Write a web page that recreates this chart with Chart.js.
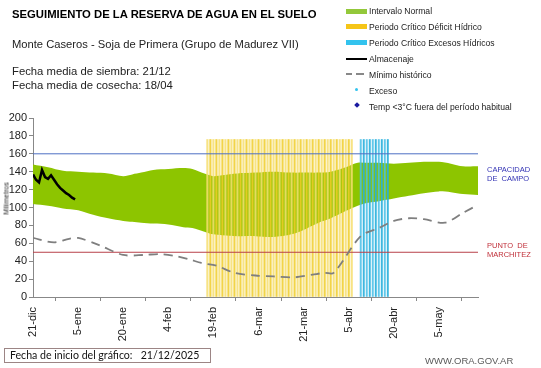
<!DOCTYPE html>
<html>
<head>
<meta charset="utf-8">
<script src="https://cdn.jsdelivr.net/npm/chart.js@4.4.1/dist/chart.umd.min.js"></script>
<style>
  html,body{margin:0;padding:0;background:#fff;}
  #wrap{position:relative;width:541px;height:368px;overflow:hidden;font-family:"Liberation Sans",Arial,sans-serif;}
  #c{position:absolute;left:0;top:0;}
  .t{position:absolute;white-space:nowrap;color:#222;}
  .lg{position:absolute;left:369px;font-size:8.6px;color:#222;white-space:nowrap;}
  .sw{position:absolute;left:346px;width:21px;}
</style>
</head>
<body>
<div id="wrap">
  <canvas id="c" width="541" height="368"></canvas>
  <div class="t" style="left:12px;top:8px;font-size:11.3px;font-weight:bold;color:#000;">SEGUIMIENTO DE LA RESERVA DE AGUA EN EL SUELO</div>
  <div class="t" style="left:12px;top:38px;font-size:11.2px;">Monte Caseros - Soja de Primera (Grupo de Madurez VII)</div>
  <div class="t" style="left:12px;top:64px;font-size:11.3px;line-height:14px;">Fecha media de siembra: 21/12<br>Fecha media de cosecha: 18/04</div>

  <div class="sw" style="top:9px;height:5px;background:#93c83a;"></div>
  <div class="lg" style="top:6px;">Intervalo Normal</div>
  <div class="sw" style="top:24px;height:5px;background:#f5c518;"></div>
  <div class="lg" style="top:22px;">Periodo Crítico Déficit Hídrico</div>
  <div class="sw" style="top:40px;height:5px;background:#33c3ee;"></div>
  <div class="lg" style="top:38px;">Periodo Crítico Excesos Hídricos</div>
  <div class="sw" style="top:58px;height:2px;background:#000;"></div>
  <div class="lg" style="top:54px;">Almacenaje</div>
  <div class="sw" style="top:73px;height:2px;width:6px;background:#888;"></div>
  <div class="sw" style="left:356px;top:73px;height:2px;width:8px;background:#888;"></div>
  <div class="lg" style="top:70px;">Mínimo histórico</div>
  <div class="sw" style="left:355px;top:88px;height:3px;width:3px;background:#33c3ee;border-radius:50%;"></div>
  <div class="lg" style="top:86px;">Exceso</div>
  <div class="sw" style="left:355px;top:103px;height:4px;width:4px;background:#1a1aa0;transform:rotate(45deg);"></div>
  <div class="lg" style="top:102px;">Temp &lt;3°C fuera del período habitual</div>

  <div class="t" style="left:487px;top:166px;font-size:7.5px;line-height:8.5px;color:#3232b4;">CAPACIDAD<br>DE&nbsp; CAMPO</div>
  <div class="t" style="left:487px;top:242px;font-size:7.5px;line-height:8.5px;color:#c0303a;">PUNTO&nbsp; DE<br>MARCHITEZ</div>

  <div class="t" style="left:-16px;top:195px;font-size:7px;color:#222;transform:rotate(-90deg);transform-origin:center;width:44px;text-align:center;">Milímetros</div>

  <div class="t" style="left:4px;top:348px;width:207px;height:15px;border:1px solid #9c8585;font-family:Lato,'Open Sans',sans-serif;font-size:10.6px;line-height:13px;color:#111;box-sizing:border-box;padding-left:5px;">Fecha de inicio del gráfico:&nbsp;&nbsp; 21/12/2025</div>
  <div class="t" style="left:425px;top:355px;font-size:9.5px;color:#5a5a5a;">WWW.ORA.GOV.AR</div>
</div>
<script>
// ---- DATA ----
const tickDays   = [0, 15, 30, 45, 60, 75, 90, 105, 120, 135];
const tickLabels = ['21-dic','5-ene','20-ene','4-feb','19-feb','6-mar','21-mar','5-abr','20-abr','5-may'];

const bandDays   = [0, 5, 10, 15, 20, 25, 30, 33, 36, 40, 45, 50, 53, 57, 60, 63, 68, 74, 80, 86, 90, 95, 99, 104, 108, 111, 115, 120, 125, 130, 135, 139, 143, 148];
const bandUpper  = [148,145,141,140,139,138,135,137,139,142,143,144,143,138,135,136,138,139,140,139,139,139,140,145,150,150,150,149,150,151,151,149,146,146];
const bandLower  = [104,102,99, 97, 92, 88, 85, 84, 83, 82, 81, 78, 77, 73, 70, 69, 68, 68, 67, 70, 75, 83, 88, 96, 102,105,107,110,113,116,118,117,115,114];

const minDays    = [0, 7, 12, 15, 22, 30, 37, 42, 47, 52, 56, 61, 67, 74, 80, 87, 93, 97, 100, 109, 115, 120, 125, 130, 137, 143, 148];
const minValues  = [66,61,65, 66, 58, 47, 47, 48, 46, 42, 38, 35, 27, 24, 23, 22, 25, 27, 27,  68,  77,  85,  88,  87,  83,  94,  103];

const almDays    = [0,1,2,3,4,5,6,7,8,9,10,11,12,13,14];
const almValues  = [137,131,128,142,134,132,136,131,126,122,119,116,114,111,109];

const deficitDays = [];  for (let d = 58; d <= 106; d++) deficitDays.push(d);
const deficitTop  = deficitDays.map(() => 176);
const excesoDays  = [109,110,111,112,113,114,115,116,117,118];
const excesoTop   = excesoDays.map(() => 176);

const capacidadCampo = 160;
const puntoMarchitez = 50;
const xMin = 0, xMax = 148;

// ---- CHART ----
const pts = (xs, ys) => xs.map((x, i) => ({x, y: ys[i]}));

new Chart(document.getElementById('c'), {
  type: 'line',
  data: {
    datasets: [
      { data: pts(bandDays, bandLower), borderWidth: 0, pointRadius: 0, fill: false, tension: 0.3, order: 6 },
      { data: pts(bandDays, bandUpper), borderWidth: 0, pointRadius: 0, fill: '-1', backgroundColor: '#8dc500', tension: 0.3, order: 5 },
      { type: 'bar', grouped: false, data: pts(deficitDays, deficitTop), barThickness: 1.5,
        backgroundColor: deficitDays.map((d, i) => i % 2 ? 'rgba(240,205,40,0.85)' : 'rgba(246,222,110,0.85)'), order: 4 },
      { type: 'bar', grouped: false, data: pts(excesoDays, excesoTop), barThickness: 1.3,
        backgroundColor: excesoDays.map((d, i) => i % 2 ? 'rgba(40,175,220,0.9)' : 'rgba(70,190,230,0.85)'), order: 4 },
      { data: [{x: xMin, y: capacidadCampo}, {x: xMax, y: capacidadCampo}], borderColor: '#4e6fc4', borderWidth: 1, pointRadius: 0, order: 3 },
      { data: [{x: xMin, y: puntoMarchitez}, {x: xMax, y: puntoMarchitez}], borderColor: '#b8404a', borderWidth: 1, pointRadius: 0, order: 3 },
      { data: pts(minDays, minValues), borderColor: '#7f7f7f', borderWidth: 1.8, borderDash: [9, 6], pointRadius: 0, tension: 0.3, order: 2 },
      { data: pts(almDays, almValues), borderColor: '#000', borderWidth: 2.5, pointRadius: 0, tension: 0, order: 1 }
    ]
  },
  options: {
    responsive: false,
    animation: false,
    layout: { padding: { left: 0, top: 118, right: 63, bottom: 0 } },
    plugins: { legend: { display: false }, tooltip: { enabled: false } },
    scales: {
      x: {
        type: 'linear', min: xMin, max: xMax, offset: false,
        afterFit: s => { s.height = 71; },
        afterBuildTicks: s => { s.ticks = tickDays.map(v => ({value: v})); },
        ticks: {
          autoSkip: false, maxRotation: 90, minRotation: 90, padding: 6,
          color: '#222', font: { family: 'Liberation Sans', size: 11 },
          callback: v => { const i = tickDays.indexOf(v); return i >= 0 ? tickLabels[i] : ''; }
        },
        grid: { drawOnChartArea: false, drawTicks: true, tickLength: 4, color: '#888' },
        border: { color: '#888', width: 1 }
      },
      y: {
        min: 0, max: 200,
        afterFit: s => { s.width = 33; },
        ticks: { stepSize: 20, padding: 2, color: '#222', font: { family: 'Liberation Sans', size: 11 } },
        grid: { drawOnChartArea: false, drawTicks: true, tickLength: 4, color: '#888' },
        border: { color: '#888', width: 1 }
      }
    }
  }
});
</script>
</body>
</html>
